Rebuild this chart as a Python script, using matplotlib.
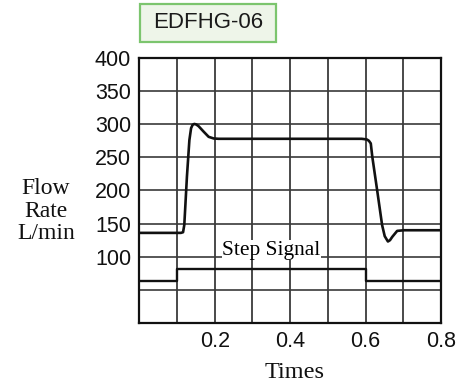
import matplotlib
matplotlib.use("Agg")
import matplotlib.pyplot as plt
from matplotlib.patches import FancyBboxPatch

# Flow response (time, L/min)
flow_t = [0.0, 0.100, 0.110, 0.1157, 0.119, 0.126, 0.1325, 0.137, 0.141,
          0.1457, 0.151, 0.157, 0.170, 0.1836, 0.197, 0.21,
          0.590, 0.6035, 0.609, 0.614, 0.618, 0.631, 0.644, 0.651,
          0.6595, 0.665, 0.671, 0.684, 0.702, 0.80]
flow_q = [136, 136, 136, 137, 148, 221, 276, 294, 299,
          300.5, 299.5, 297, 289, 281, 278.5, 278,
          278, 277, 275, 271, 251, 200, 148, 131,
          123, 125, 130, 139, 140, 140]

# Step command signal
step_t = [0.0, 0.1, 0.6, 0.8]
step_v = [64, 81, 64, 64]

x_ticks = [0.2, 0.4, 0.6, 0.8]
x_tick_labels = ["0.2", "0.4", "0.6", "0.8"]
y_ticks = [100, 150, 200, 250, 300, 350, 400]
y_tick_labels = ["100", "150", "200", "250", "300", "350", "400"]

fig = plt.figure(figsize=(4.68, 3.87), dpi=100)
ax = fig.add_axes([0.298, 0.1654, 0.644, 0.6848])
ax.set_xlim(0, 0.8)
ax.set_ylim(0, 400)

grid_color = "#2a2a2a"
for gx in [0.1, 0.2, 0.3, 0.4, 0.5, 0.6, 0.7]:
    ax.axvline(gx, color=grid_color, lw=1.2, zorder=1)
for gy in [50, 100, 150, 200, 250, 300, 350]:
    ax.axhline(gy, color="#3a3a3a", lw=1.2, zorder=1)

ax.plot(flow_t, flow_q, color="#111111", lw=1.9, zorder=3,
        solid_joinstyle="round")
ax.step(step_t, step_v, where="post", color="#111111", lw=1.7, zorder=3)

ax.text(0.35, 110, "Step Signal", family="Liberation Serif", fontsize=15.4,
        ha="center", va="center", zorder=4,
        bbox=dict(facecolor="white", edgecolor="none", pad=0.3))

for s in ax.spines.values():
    s.set_color("#111111")
    s.set_linewidth(1.6)

ax.set_xticks(x_ticks)
ax.set_xticklabels(x_tick_labels, family="Liberation Sans", fontsize=15.5)
ax.set_yticks(y_ticks)
ax.set_yticklabels(y_tick_labels, family="Liberation Sans", fontsize=15.5)
ax.tick_params(length=0, pad=6, colors="#111111")

fig.text(46 / 468, 1 - 211 / 387, "Flow\nRate\nL/min", family="Liberation Serif",
         fontsize=17, ha="center", va="center", linespacing=1.12, color="#111111")
fig.text(295 / 468, 1 - 372 / 387, "Times", family="Liberation Serif",
         fontsize=17.5, ha="center", va="center", color="#111111")

box = FancyBboxPatch((140 / 468, 1 - 42 / 387), 136 / 468, 38 / 387,
                     boxstyle="square,pad=0", transform=fig.transFigure,
                     facecolor="#eef5e9", edgecolor="#7cc56e", lw=1.6)
fig.patches.append(box)
fig.text(208 / 468, 1 - 23 / 387, "EDFHG-06", family="Liberation Sans",
         fontsize=16, ha="center", va="center", color="#1a1a1a")

fig.savefig("out.png", dpi=100)
